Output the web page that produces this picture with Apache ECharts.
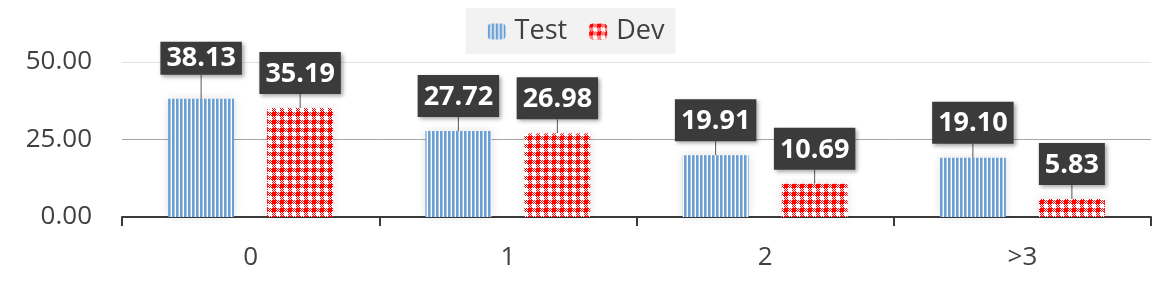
<!DOCTYPE html>
<html><head><meta charset="utf-8">
<script src="https://cdn.jsdelivr.net/npm/echarts@6/dist/echarts.min.js"></script>
<style>html,body{margin:0;padding:0;background:#fff}#c{width:1152px;height:288px}</style>
</head><body><div id="c"></div>
<script>
var categories = ['0', '1', '2', '>3'];
var testValues = [38.13, 27.72, 19.91, 19.10];
var devValues = [35.19, 26.98, 10.69, 5.83];
var yTicks = [0, 25, 50];

function stripePattern() {
  var c = document.createElement('canvas'); c.width = 4; c.height = 4;
  var g = c.getContext('2d');
  g.fillStyle = '#fff'; g.fillRect(0, 0, 4, 4);
  g.fillStyle = '#6a9fd3'; g.fillRect(0, 0, 2.6, 4);
  return c;
}
function checkPattern() {
  var c = document.createElement('canvas'); c.width = 8; c.height = 8;
  var g = c.getContext('2d');
  g.fillStyle = '#fff'; g.fillRect(0, 0, 8, 8);
  g.fillStyle = '#ff0000';
  g.fillRect(0, 0, 4, 4);
  for (var y = 0; y < 8; y++) for (var x = 0; x < 8; x++) {
    var q1 = x >= 4 && y < 4, q2 = x < 4 && y >= 4;
    if ((q1 || q2) && ((x + y) % 2 === 0)) g.fillRect(x, y, 1, 1);
  }
  return c;
}
var blue = { image: stripePattern(), repeat: 'repeat' };
var red = { image: checkPattern(), repeat: 'repeat' };

var labelCfg = {
  show: true, position: 'top', distance: 0,
  formatter: function (p) { return p.value.toFixed(2); },
  color: '#fff', fontFamily: 'Open Sans', fontWeight: 'bold', fontSize: 27,
  backgroundColor: '#3b3b3b', padding: [6, 6, 4, 6], lineHeight: 32,
  shadowColor: 'rgba(0,0,0,0.35)', shadowBlur: 4, shadowOffsetX: 2, shadowOffsetY: 2
};

// the first Test label is squeezed near the top of the chart in the reference
var testData = testValues.map(function (v, i) {
  return i === 0 ? { value: v, label: { padding: [1, 6, 0, 6] } } : v;
});

var chart = echarts.init(document.getElementById('c'));
chart.setOption({
  animation: false,
  legend: {
    top: 8, left: 'center',
    backgroundColor: '#f2f2f2', padding: [10, 11, 9, 22],
    itemWidth: 18, itemHeight: 16, itemGap: 22,
    textStyle: { fontFamily: 'Open Sans', fontSize: 27, color: '#404040', padding: [0, 0, 0, 4] },
    data: ['Test', 'Dev']
  },
  grid: { left: 122, right: 1, top: 62, bottom: 71 },
  xAxis: {
    type: 'category', data: categories,
    axisLine: { lineStyle: { color: '#3a3a3a', width: 2 } },
    axisTick: { show: true, length: 9, lineStyle: { color: '#3a3a3a', width: 2 } },
    axisLabel: { fontFamily: 'Open Sans', fontSize: 26, color: '#404040', margin: 28 }
  },
  yAxis: {
    type: 'value', min: yTicks[0], max: yTicks[yTicks.length - 1], interval: 25,
    axisLine: { show: false }, axisTick: { show: false },
    axisLabel: {
      fontFamily: 'Open Sans', fontSize: 26, color: '#404040', margin: 30,
      formatter: function (v) { return v.toFixed(2); }
    },
    splitLine: { lineStyle: { color: ['#3a3a3a', '#a6a6a6', '#e3e3e3'], width: 1 } }
  },
  series: [
    {
      name: 'Test', type: 'bar', data: testData, barWidth: 66, barGap: '50%',
      itemStyle: { color: blue, shadowColor: 'rgba(0,0,0,0.12)', shadowBlur: 8 },
      label: labelCfg,
      labelLayout: function (p) { return { dy: p.dataIndex === 0 ? -24 : -14 }; },
      labelLine: { show: true, lineStyle: { color: '#595959', width: 1 } }
    },
    {
      name: 'Dev', type: 'bar', data: devValues, barWidth: 66,
      itemStyle: { color: red, shadowColor: 'rgba(0,0,0,0.12)', shadowBlur: 8 },
      label: labelCfg, labelLayout: { dy: -14 },
      labelLine: { show: true, lineStyle: { color: '#595959', width: 1 } }
    }
  ]
});
</script></body></html>
